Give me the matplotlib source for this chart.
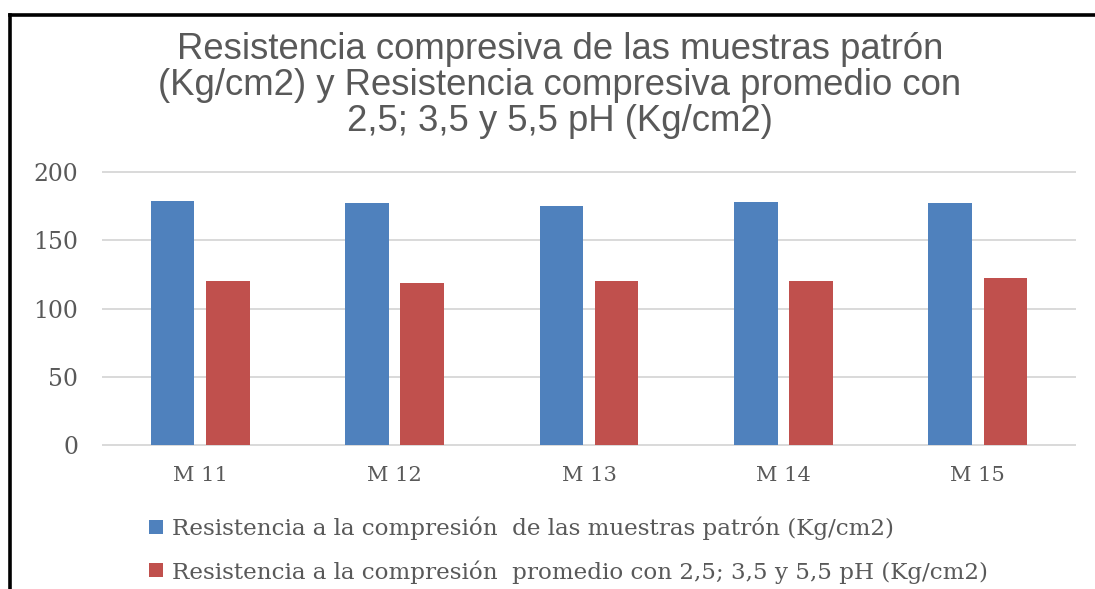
import matplotlib
matplotlib.use("Agg")
import matplotlib.pyplot as plt
from matplotlib.lines import Line2D
from matplotlib.patches import Patch
import numpy as np

# ---- data -------------------------------------------------------------
muestras = ["M 11", "M 12", "M 13", "M 14", "M 15"]
resistencia_patron = [179, 177, 175, 178, 177]
resistencia_promedio_ph = [120, 119, 120, 120, 122]
y_ticks = [0, 50, 100, 150, 200]
serie_labels = [
    "Resistencia a la compresión  de las muestras patrón (Kg/cm2)",
    "Resistencia a la compresión  promedio con 2,5; 3,5 y 5,5 pH (Kg/cm2)",
]
title_lines = [
    "Resistencia compresiva de las muestras patrón",
    "(Kg/cm2) y Resistencia compresiva promedio con",
    "2,5; 3,5 y 5,5 pH (Kg/cm2)",
]

# ---- style --------------------------------------------------------------
BLUE = "#4F81BD"
RED = "#C0504D"
GRID = "#D9D9D9"
TEXT_GREY = "#595959"
SANS = "Liberation Sans"
SERIF = "DejaVu Serif"

W, H, DPI = 1095, 589, 100
fig = plt.figure(figsize=(W / DPI, H / DPI), dpi=DPI)
fig.patch.set_facecolor("white")
renderer = fig.canvas.get_renderer()


def fit_size(text, family, target_px, base=20.0):
    """Font size (pt) that makes `text` about `target_px` pixels wide."""
    t = fig.text(0, 0, text, fontsize=base, family=family)
    w = t.get_window_extent(renderer).width
    t.remove()
    return base * target_px / w


def px_to_pt(px):
    return px * 72.0 / DPI


# ---- plot area ------------------------------------------------------------
left, right, bottom, top = 103, 1075, 445, 172
ax = fig.add_axes([left / W, 1 - bottom / H, (right - left) / W, (bottom - top) / H])

x = np.arange(len(muestras))
bar_w = 0.225
offset = 0.142
ax.bar(x - offset, resistencia_patron, bar_w, color=BLUE, zorder=3,
       label=serie_labels[0])
ax.bar(x + offset, resistencia_promedio_ph, bar_w, color=RED, zorder=3,
       label=serie_labels[1])

ax.set_xlim(-0.5, len(muestras) - 0.5)
ax.set_ylim(0, 200)
ax.set_yticks(y_ticks)
ax.set_xticks(x)
ax.yaxis.grid(True, color=GRID, linewidth=1.4)
ax.set_axisbelow(True)
for gl in ax.get_ygridlines():
    gl.set_clip_on(False)
for sp in ax.spines.values():
    sp.set_visible(False)

ytick_fs = fit_size("200", SERIF, 45)
xtick_fs = fit_size("M 11", SERIF, 55)
ax.set_yticklabels([str(v) for v in y_ticks], fontsize=ytick_fs,
                   family=SERIF, color=TEXT_GREY)
ax.set_xticklabels(muestras, fontsize=xtick_fs, family=SERIF, color=TEXT_GREY)
ax.tick_params(axis="both", length=0)
ax.tick_params(axis="y", pad=px_to_pt(left - 78))
ax.tick_params(axis="x", pad=px_to_pt(21))

# ---- title ------------------------------------------------------------------
title_fs = fit_size(title_lines[0], SANS, 766)
for line, baseline in zip(title_lines, [59, 95, 131]):
    fig.text(560 / W, 1 - baseline / H, line, ha="center", va="baseline",
             fontsize=title_fs, family=SANS, color=TEXT_GREY)

# ---- legend -----------------------------------------------------------------
legend_fs = fit_size(serie_labels[0], SERIF, 721)
fs_px = legend_fs * DPI / 72.0
handles = [Patch(facecolor=BLUE, edgecolor="none", label=serie_labels[0]),
           Patch(facecolor=RED, edgecolor="none", label=serie_labels[1])]
leg = ax.legend(handles=handles, loc="upper left",
                bbox_to_anchor=(149 / W, 1 - 517 / H),
                bbox_transform=fig.transFigure, frameon=False,
                prop={"family": SERIF, "size": legend_fs},
                handlelength=14 / fs_px, handleheight=13 / fs_px,
                handletextpad=9 / fs_px, labelspacing=0.85,
                borderpad=0, borderaxespad=0)
for t in leg.get_texts():
    t.set_color(TEXT_GREY)

# ---- frame ------------------------------------------------------------------
frame_kw = dict(transform=fig.transFigure, color="black", linewidth=2.6,
                solid_capstyle="projecting")
fig.add_artist(Line2D([10 / W, 10 / W], [0, 1 - 15 / H], **frame_kw))
fig.add_artist(Line2D([10 / W, 1.0], [1 - 15 / H, 1 - 15 / H], **frame_kw))

fig.savefig("out.png", dpi=DPI, facecolor="white")
